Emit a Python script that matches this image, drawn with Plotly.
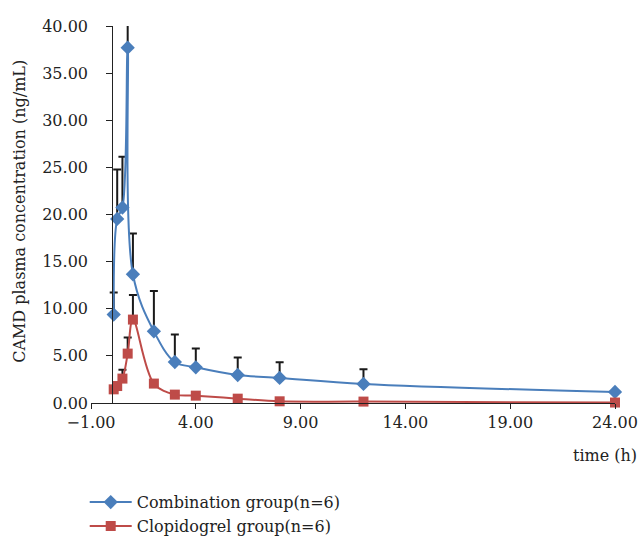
import plotly.graph_objects as go

time_h = [0.083, 0.25, 0.5, 0.75, 1.0, 2.0, 3.0, 4.0, 6.0, 8.0, 12.0, 24.0]
combo_mean = [9.38, 19.53, 20.74, 37.7, 13.66, 7.61, 4.35, 3.79, 2.97, 2.66, 2.02, 1.17]
combo_sd = [2.35, 5.24, 5.4, 3.0, 4.32, 4.28, 2.91, 1.98, 1.85, 1.66, 1.56, 0.0]
clop_mean = [1.45, 1.8, 2.59, 5.24, 8.85, 2.06, 0.89, 0.78, 0.46, 0.18, 0.15, 0.05]
clop_sd = [0.0, 0.0, 0.95, 1.7, 2.6, 0.0, 0.0, 0.0, 0.0, 0.0, 0.0, 0.0]

x_ticks = [-1, 4, 9, 14, 19, 24]
y_ticks = [0, 5, 10, 15, 20, 25, 30, 35, 40]

BLUE = "#4a7ebb"
RED = "#be4b48"
FONT = "DejaVu Serif"
TXT = "#222"

fig = go.Figure()

err_style = dict(type="data", symmetric=False, color="#1a1a1a", thickness=2, width=4)

# error bars (clipped to plot area)
fig.add_trace(go.Scatter(x=time_h, y=combo_mean, mode="markers",
                         marker=dict(size=1, color="rgba(0,0,0,0)"),
                         error_y=dict(array=combo_sd, arrayminus=[0]*len(combo_sd), **err_style),
                         showlegend=False, hoverinfo="skip", cliponaxis=True))
fig.add_trace(go.Scatter(x=time_h, y=clop_mean, mode="markers",
                         marker=dict(size=1, color="rgba(0,0,0,0)"),
                         error_y=dict(array=clop_sd, arrayminus=[0]*len(clop_sd), **err_style),
                         showlegend=False, hoverinfo="skip", cliponaxis=True))

fig.add_trace(go.Scatter(x=time_h, y=combo_mean, mode="lines+markers",
                         name="Combination group(n=6)",
                         line=dict(color=BLUE, width=2, shape="spline", smoothing=1.0),
                         marker=dict(symbol="diamond", size=11, color=BLUE),
                         cliponaxis=False))
fig.add_trace(go.Scatter(x=time_h, y=clop_mean, mode="lines+markers",
                         name="Clopidogrel group(n=6)",
                         line=dict(color=RED, width=2, shape="spline", smoothing=1.0),
                         marker=dict(symbol="square", size=10, color=RED),
                         cliponaxis=False))

fig.update_layout(
    width=641, height=536,
    margin=dict(l=91, r=26, t=26, b=133, autoexpand=False),
    paper_bgcolor="white", plot_bgcolor="white",
    font=dict(family=FONT, size=16, color=TXT),
    xaxis=dict(range=[-1, 24], tickvals=x_ticks, tickformat=".2f",
               showgrid=False, zeroline=False, showline=True, linecolor=TXT,
               linewidth=1, ticks="outside", ticklen=5, tickcolor=TXT,
               domain=[0, 1]),
    yaxis=dict(range=[0, 40], tickvals=y_ticks, tickformat=".2f",
               showgrid=False, zeroline=False, showline=False, ticks="",
               ticklabelstandoff=2),
    yaxis2=dict(range=[0, 40], tickvals=y_ticks, overlaying="y", anchor="free",
                position=1/25, side="left", showticklabels=False, showgrid=False,
                zeroline=False, showline=True, linecolor=TXT, linewidth=1,
                ticks="outside", ticklen=6, tickcolor=TXT),
    legend=dict(x=-0.012, y=-0.218, xanchor="left", yanchor="top",
                font=dict(family=FONT, size=16, color=TXT), itemwidth=42,
                bgcolor="rgba(0,0,0,0)", tracegroupgap=0),
    showlegend=True,
    annotations=[
        dict(text="CAMD plasma concentration (ng/mL)", textangle=-90,
             xref="paper", yref="paper", x=-(91-20)/524, y=0.507,
             xanchor="center", yanchor="middle", showarrow=False,
             font=dict(family=FONT, size=16, color=TXT)),
        dict(text="time (h)", xref="paper", yref="paper",
             x=(639-91)/524, y=(403-455)/377, xanchor="right", yanchor="middle",
             showarrow=False, font=dict(family=FONT, size=16, color=TXT)),
    ],
)

# dummy trace on y2 so the axis is drawn
fig.add_trace(go.Scatter(x=[None], y=[None], yaxis="y2", showlegend=False, hoverinfo="skip"))

fig.write_html("out.html")
